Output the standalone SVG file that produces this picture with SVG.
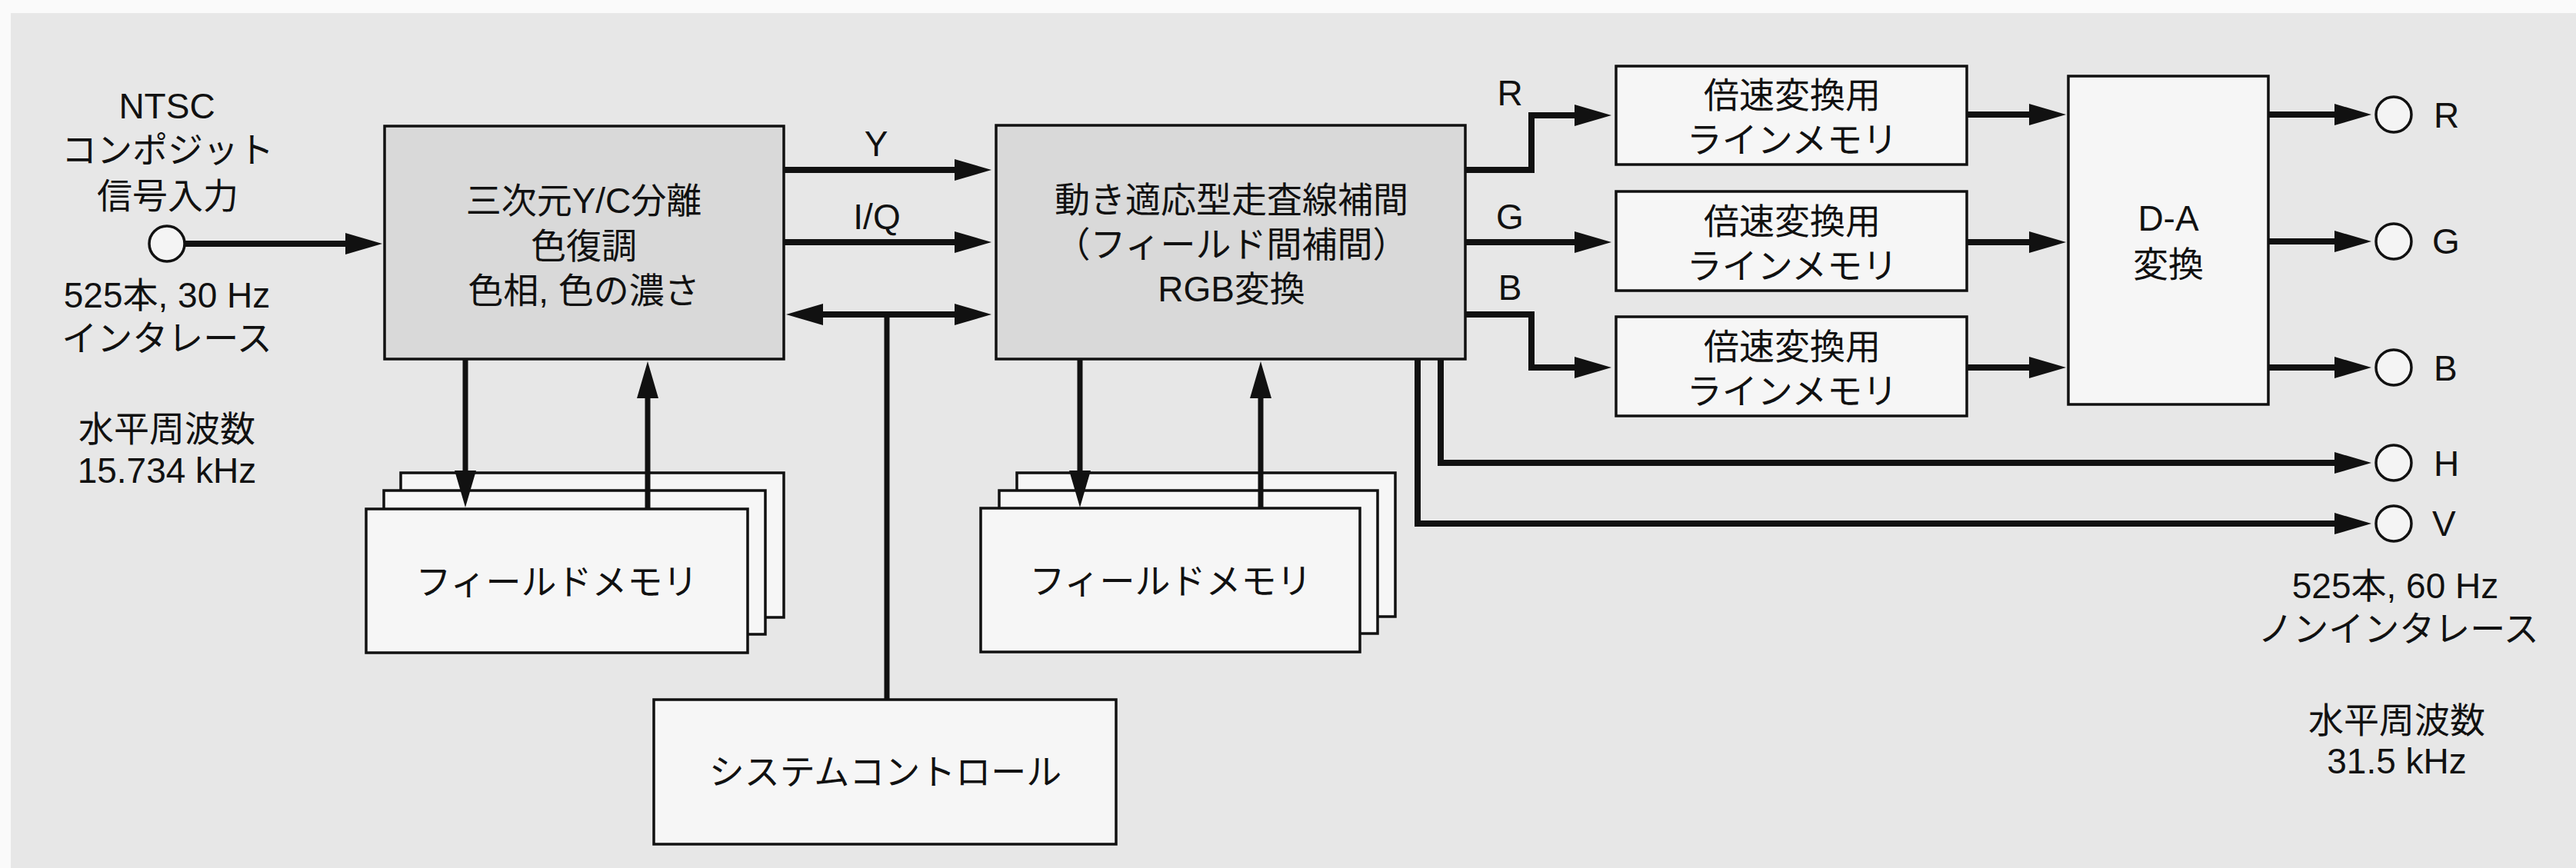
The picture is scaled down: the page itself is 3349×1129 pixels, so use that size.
<svg xmlns="http://www.w3.org/2000/svg" width="3349" height="1129" viewBox="0 0 3349 1129">
  <style>
    text { font-family: "Liberation Sans", "Noto Sans CJK JP", sans-serif; font-size: 46px; fill: #111; }
    .c { text-anchor: middle; }
    .gray { fill: #d9d9d9; stroke: #111; stroke-width: 3.5; }
    .white { fill: #f6f6f6; stroke: #111; stroke-width: 3.5; }
    .port { fill: #f4f4f4; stroke: #111; stroke-width: 3.5; }
    .sig { fill: none; stroke: #111; stroke-width: 8; stroke-linejoin: miter; }
    .thin { fill: none; stroke: #111; stroke-width: 7; stroke-linejoin: miter; }
  </style>
  <defs>
    <marker id="ah" markerUnits="userSpaceOnUse" markerWidth="48" markerHeight="28" viewBox="0 0 48 28" refX="18" refY="14" orient="auto-start-reverse">
      <path d="M0,0 L48,14 L0,28 z" fill="#111"/>
    </marker>
  </defs>

  <rect x="0" y="0" width="3349" height="1129" fill="#fafafa"/>
  <rect x="14" y="17" width="3335" height="1112" fill="#e7e7e7"/>

  <g id="input-label">
    <text class="c" x="217" y="154">NTSC</text>
    <text class="c" x="218" y="211">コンポジット</text>
    <text class="c" x="218" y="271">信号入力</text>
    <text class="c" x="217" y="400">525本, 30 Hz</text>
    <text class="c" x="217" y="456">インタレース</text>
    <text class="c" x="217" y="574">水平周波数</text>
    <text class="c" x="217" y="628">15.734 kHz</text>
  </g>
  <g id="input-port">
    <circle class="port" cx="217" cy="317" r="23"/>
  </g>

  <g id="yc-separation">
    <rect class="gray" x="500" y="164" width="519" height="303"/>
    <text class="c" x="759" y="277">三次元Y/C分離</text>
    <text class="c" x="759" y="336">色復調</text>
    <text class="c" x="759" y="394">色相, 色の濃さ</text>
  </g>

  <g id="field-memory-1">
    <rect class="white" x="521" y="615" width="498" height="188"/>
    <rect class="white" x="499" y="638" width="496" height="187"/>
    <rect class="white" x="476" y="662" width="496" height="187"/>
    <text class="c" x="724" y="773">フィールドメモリ</text>
  </g>

  <g id="scan-interpolation">
    <rect class="gray" x="1295" y="163" width="610" height="304"/>
    <text class="c" x="1601" y="276">動き適応型走査線補間</text>
    <text class="c" x="1601" y="334">（フィールド間補間）</text>
    <text class="c" x="1601" y="392">RGB変換</text>
  </g>

  <g id="field-memory-2">
    <rect class="white" x="1322" y="615" width="492" height="187"/>
    <rect class="white" x="1299" y="638" width="492" height="186"/>
    <rect class="white" x="1275" y="661" width="493" height="187"/>
    <text class="c" x="1522" y="772">フィールドメモリ</text>
  </g>

  <g id="system-control">
    <rect class="white" x="850" y="910" width="601" height="188"/>
    <text class="c" x="1151" y="1020">システムコントロール</text>
  </g>

  <g id="line-memory-r">
    <rect class="white" x="2101" y="86" width="456" height="128"/>
    <text class="c" x="2330" y="140">倍速変換用</text>
    <text class="c" x="2330" y="198">ラインメモリ</text>
  </g>
  <g id="line-memory-g">
    <rect class="white" x="2101" y="249" width="456" height="129"/>
    <text class="c" x="2330" y="304">倍速変換用</text>
    <text class="c" x="2330" y="362">ラインメモリ</text>
  </g>
  <g id="line-memory-b">
    <rect class="white" x="2101" y="412" width="456" height="129"/>
    <text class="c" x="2330" y="467">倍速変換用</text>
    <text class="c" x="2330" y="525">ラインメモリ</text>
  </g>

  <g id="da-converter">
    <rect class="white" x="2689" y="99" width="260" height="427"/>
    <text class="c" x="2819" y="300">D-A</text>
    <text class="c" x="2819" y="360">変換</text>
  </g>

  <g id="output-ports">
    <circle class="port" cx="3112" cy="149" r="23"/>
    <circle class="port" cx="3112" cy="314" r="23"/>
    <circle class="port" cx="3112" cy="478" r="23"/>
    <circle class="port" cx="3112" cy="602" r="23"/>
    <circle class="port" cx="3112" cy="681" r="23"/>
    <text x="3164" y="166">R</text>
    <text x="3162" y="330">G</text>
    <text x="3164" y="495">B</text>
    <text x="3164" y="619">H</text>
    <text x="3162" y="697">V</text>
  </g>

  <g id="output-label">
    <text class="c" x="3114" y="778">525本, 60 Hz</text>
    <text class="c" x="3118" y="834">ノンインタレース</text>
    <text class="c" x="3116" y="953">水平周波数</text>
    <text class="c" x="3116" y="1006">31.5 kHz</text>
  </g>

  <g id="connectors">
    <path class="sig" d="M240,317 H467" marker-end="url(#ah)"/>
    <path class="sig" d="M1019,221 H1259" marker-end="url(#ah)"/>
    <path class="sig" d="M1019,315 H1259" marker-end="url(#ah)"/>
    <path class="sig" d="M1052,409 H1259" marker-start="url(#ah)" marker-end="url(#ah)"/>
    <path class="thin" d="M1153,910 V409"/>
    <path class="thin" d="M605,467 V630" marker-end="url(#ah)"/>
    <path class="thin" d="M842,662 V500" marker-end="url(#ah)"/>
    <path class="thin" d="M1404,467 V630" marker-end="url(#ah)"/>
    <path class="thin" d="M1639,661 V500" marker-end="url(#ah)"/>
    <path class="sig" d="M1905,221 H1991 V150 H2065" marker-end="url(#ah)"/>
    <path class="sig" d="M1905,315 H2065" marker-end="url(#ah)"/>
    <path class="sig" d="M1905,409 H1991 V478 H2065" marker-end="url(#ah)"/>
    <path class="sig" d="M1873,467 V602 H3053" marker-end="url(#ah)"/>
    <path class="sig" d="M1843,467 V681 H3053" marker-end="url(#ah)"/>
    <path class="sig" d="M2557,149 H2656" marker-end="url(#ah)"/>
    <path class="sig" d="M2557,315 H2656" marker-end="url(#ah)"/>
    <path class="sig" d="M2557,478 H2656" marker-end="url(#ah)"/>
    <path class="sig" d="M2949,149 H3053" marker-end="url(#ah)"/>
    <path class="sig" d="M2949,314 H3053" marker-end="url(#ah)"/>
    <path class="sig" d="M2949,478 H3053" marker-end="url(#ah)"/>
  </g>

  <g id="signal-labels">
    <text class="c" x="1139" y="203">Y</text>
    <text class="c" x="1140" y="298">I/Q</text>
    <text class="c" x="1963" y="137">R</text>
    <text class="c" x="1963" y="298">G</text>
    <text class="c" x="1963" y="390">B</text>
  </g>
</svg>
